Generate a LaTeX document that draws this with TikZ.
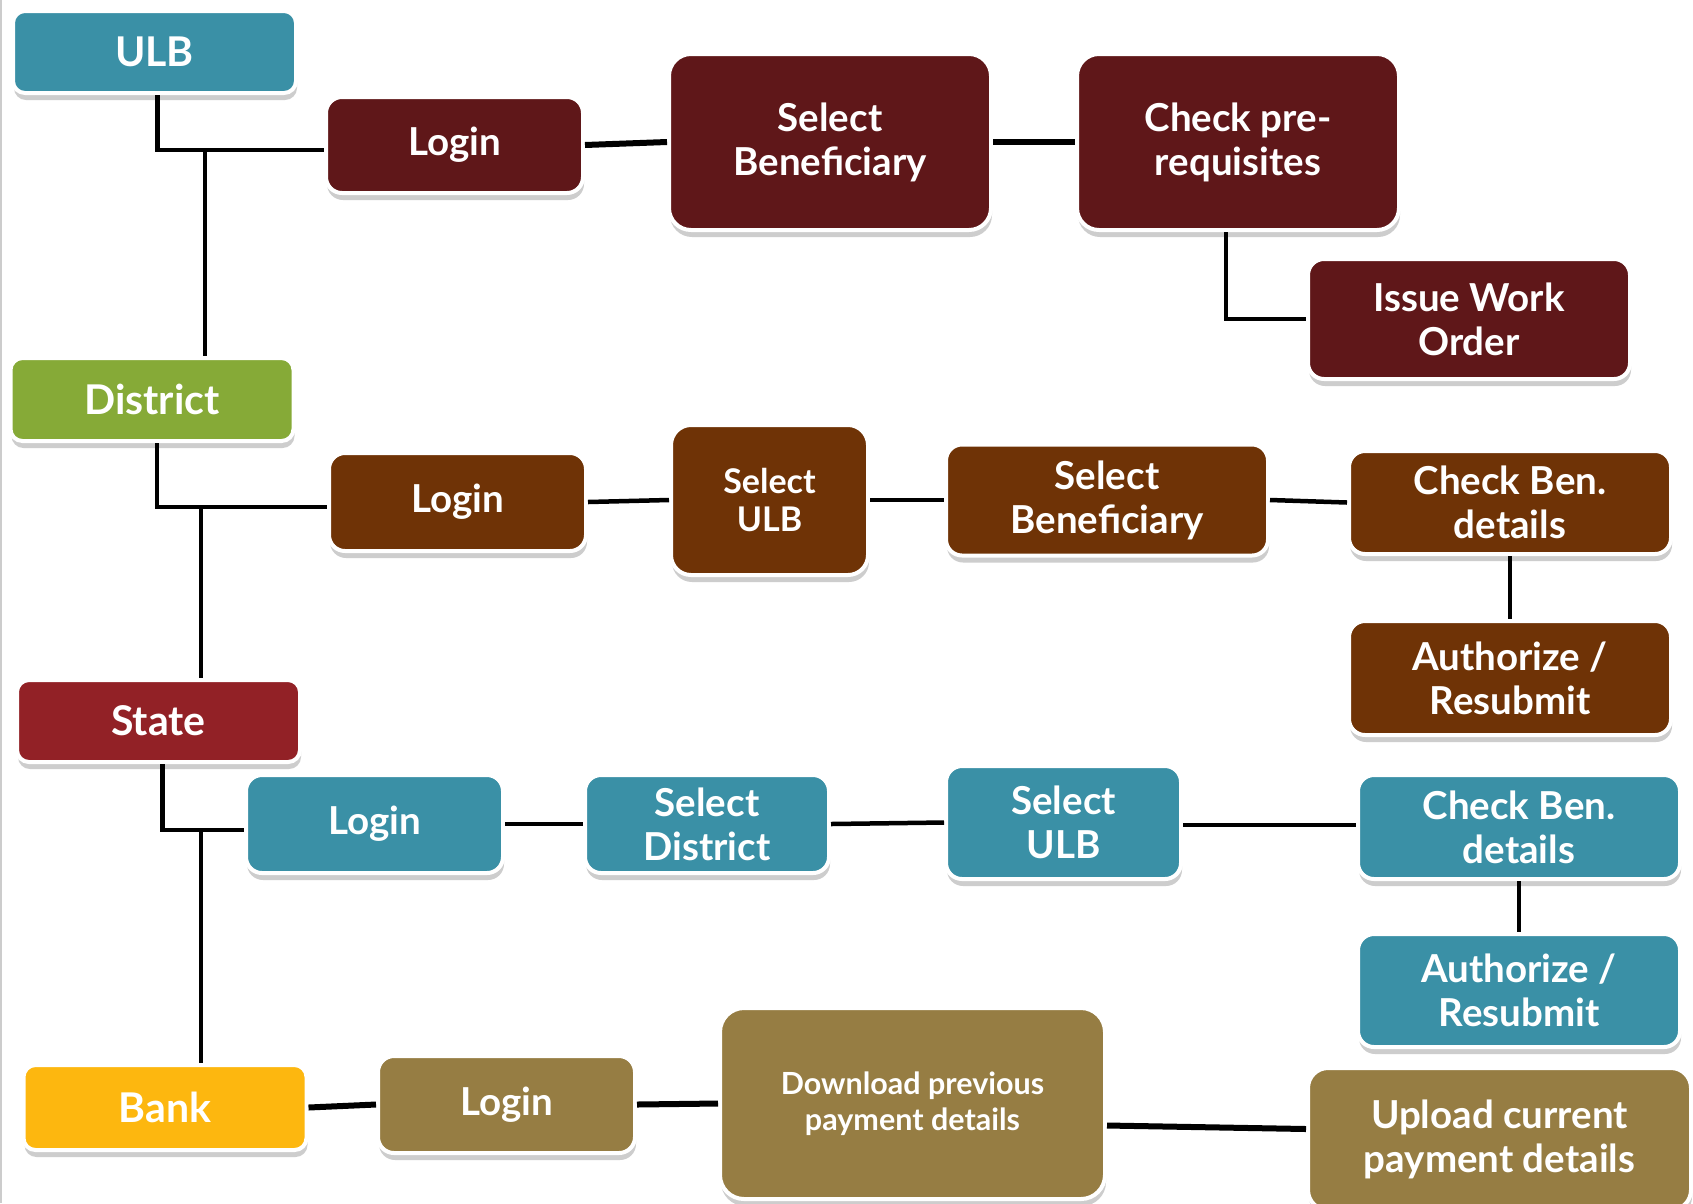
\documentclass[tikz,border=0pt]{standalone}
\usepackage{fontspec}
\setmainfont{Lato}
\usetikzlibrary{shadows}
\definecolor{teal}{HTML}{3A90A6}
\definecolor{maroon}{HTML}{5F1719}
\definecolor{grn}{HTML}{86AA37}
\definecolor{brn}{HTML}{6F3306}
\definecolor{stred}{HTML}{922126}
\definecolor{yel}{HTML}{FDB70F}
\definecolor{olive}{HTML}{967D43}
\tikzset{
  box/.style={rectangle, rounded corners=16pt, draw=white, line width=4pt, text=white,
    align=center, inner sep=0pt,
    drop shadow={shadow xshift=1pt, shadow yshift=-7pt, opacity=0.28, fill=black!70},
    font=\fontsize{38.5}{44}\selectfont\bfseries},
  role/.style={box, rounded corners=12pt, font=\fontsize{41}{46}\selectfont\bfseries},
  wire/.style={line width=4.5pt, draw=black},
  thick wire/.style={line width=6pt, draw=black},
}
\begin{document}
\begin{tikzpicture}[x=1pt,y=-1pt]
\useasboundingbox (0,0) rectangle (1693,1203);
\fill[white] (0,0) rectangle (1693,1203);
\begin{scope}
\clip (0,0) rectangle (1693,1203);
\draw[black!20, line width=2pt] (1,0) -- (1,1203);
% Row ULB
\node[role, fill=teal, minimum width=283, minimum height=82] (ulb) at (154.5,52) {ULB};
\node[box, fill=maroon, minimum width=257, minimum height=96] (login1) at (454.5,145) {Login};
\node[box, fill=maroon, minimum width=322, minimum height=176, rounded corners=22pt] (selben1) at (830,142) {Select\\Beneficiary};
\node[box, fill=maroon, minimum width=322, minimum height=176, rounded corners=22pt] (checkpre) at (1238,142) {Check pre-\\requisites};
\node[box, fill=maroon, minimum width=322, minimum height=120] (issue) at (1469,319) {Issue Work\\Order};
% Row District
\node[role, fill=grn, minimum width=283, minimum height=83] (district) at (152,399.5) {District};
\node[box, fill=brn, minimum width=257, minimum height=98] (login2) at (457.5,502) {Login};
\node[box, fill=brn, minimum width=197, minimum height=150, rounded corners=20pt,
      font=\fontsize{34}{38}\selectfont\bfseries] (selulb2) at (769.5,500) {Select\\ULB};
\node[box, fill=brn, minimum width=322, minimum height=111] (selben2) at (1107,500) {Select\\Beneficiary};
\node[box, fill=brn, minimum width=322, minimum height=103] (checkben2) at (1510,502.5) {Check Ben.\\details};
\node[box, fill=brn, minimum width=322, minimum height=114] (auth2) at (1510,678) {Authorize /\\Resubmit};
% Row State
\node[role, fill=stred, minimum width=283, minimum height=82] (state) at (158.5,721) {State};
\node[box, fill=teal, minimum width=257, minimum height=98] (login3) at (374.5,824) {Login};
\node[box, fill=teal, minimum width=244, minimum height=98] (seldist3) at (707,824) {Select\\District};
\node[box, fill=teal, minimum width=235, minimum height=113] (selulb3) at (1063.5,822.5) {Select\\ULB};
\node[box, fill=teal, minimum width=322, minimum height=104] (checkben3) at (1519,827) {Check Ben.\\details};
\node[box, fill=teal, minimum width=322, minimum height=113] (auth3) at (1519,990.5) {Authorize /\\Resubmit};
% Row Bank
\node[role, fill=yel, minimum width=283, minimum height=85] (bank) at (165,1107.5) {Bank};
\node[box, fill=olive, minimum width=257, minimum height=97] (login4) at (506.5,1104.5) {Login};
\node[box, fill=olive, minimum width=385, minimum height=191, rounded corners=24pt,
      font=\fontsize{30.5}{36}\selectfont\bfseries] (download) at (912.5,1103.5) {Download previous\\payment details};
\node[box, fill=olive, minimum width=383, minimum height=142, rounded corners=20pt] (upload) at (1499.5,1139) {Upload current\\payment details};
% connectors
\coordinate (j1) at (205,150);
\coordinate (j2) at (201,507);
\coordinate (j3) at (201,830);
\draw[wire] ([xshift=3pt]ulb.south) |- (j1) -- (login1.west |- j1);
\draw[wire] (j1) -- (district.north -| j1);
\draw[wire] ([xshift=5pt]district.south) |- (j2) -- (login2.west |- j2);
\draw[wire] (j2) -- (state.north -| j2);
\draw[wire] ([xshift=4pt]state.south) |- (j3) -- (login3.west |- j3);
\draw[wire] (j3) -- (bank.north -| j3);
\draw[thick wire] (login1.east) -- (selben1.west);
\draw[thick wire] (selben1.east) -- (checkpre.west);
\draw[wire] ([xshift=-12pt]checkpre.south) |- (issue.west);
\draw[wire] (login2.east) -- (selulb2.west);
\draw[wire] (selulb2.east) -- (selben2.west);
\draw[wire] (selben2.east) -- (checkben2.west);
\draw[wire] (checkben2.south) -- (auth2.north);
\draw[wire] (login3.east) -- (seldist3.west);
\draw[wire] (seldist3.east) -- (selulb3.west);
\draw[wire] ([yshift=-2.5pt]selulb3.east) -- ([yshift=2pt]checkben3.west);
\draw[wire] (checkben3.south) -- (auth3.north);
\draw[thick wire] (bank.east) -- (login4.west);
\draw[thick wire] (login4.east) -- (download.west);
\draw[thick wire] ([yshift=-22pt]download.east) -- ([yshift=10pt]upload.west);
\end{scope}
\end{tikzpicture}
\end{document}
